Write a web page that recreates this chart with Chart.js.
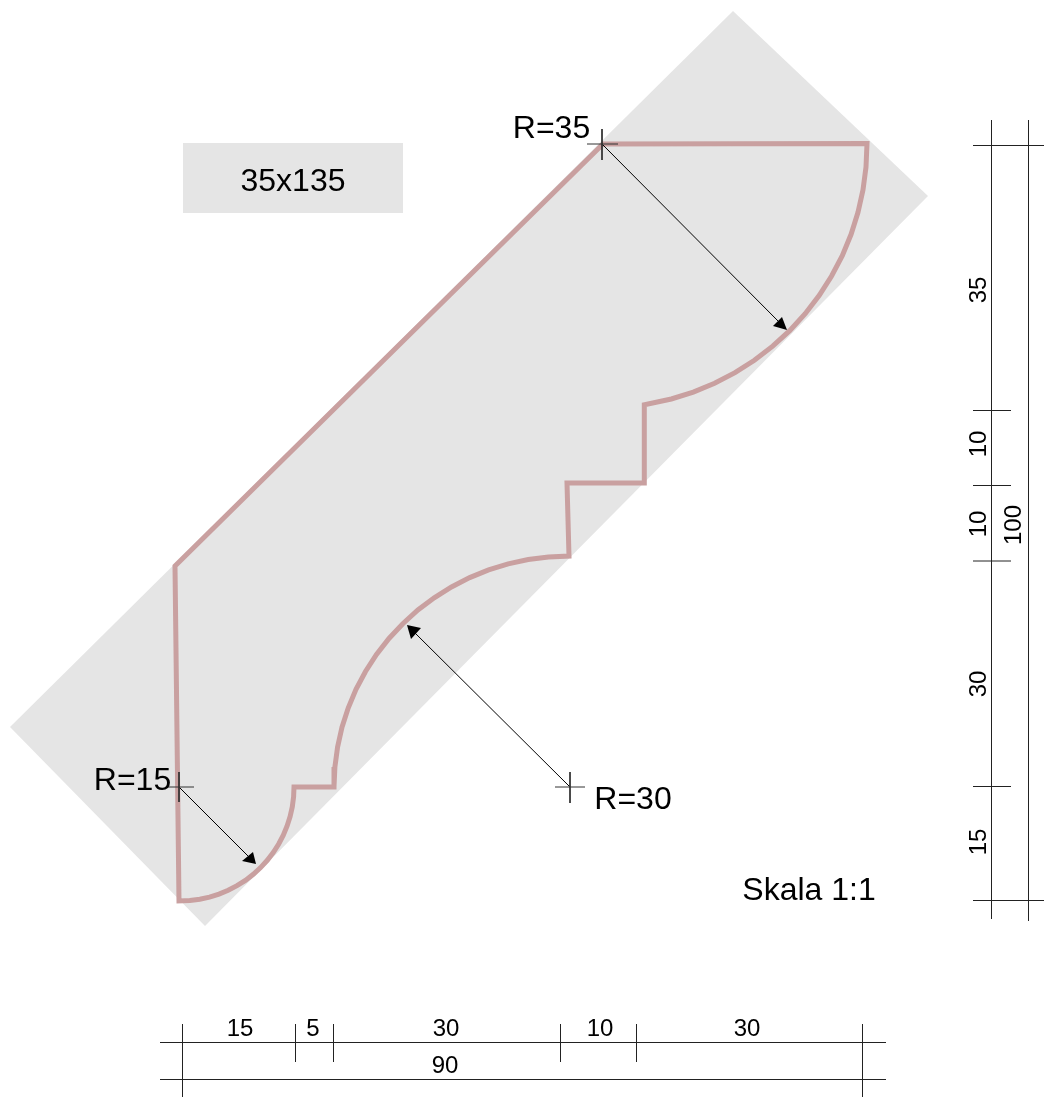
<!DOCTYPE html>
<html>
<head>
<meta charset="utf-8">
<style>html,body{margin:0;padding:0;background:#fff}canvas{display:block}</style>
<script src="https://cdn.jsdelivr.net/npm/chart.js@4"></script>
</head>
<body>
<canvas id="c" width="1044" height="1097"></canvas>
<script>
const stockBlock = [[733,11],[928,196],[205,926],[10,727]];
const titleBlock = [[183,143],[403,143],[403,213],[183,213]];
const profileOutline = [[400,344],[603,144],[867,143.5],
  [866,167],[863,189.8],[858,212.3],[851.1,234.3],[842.3,255.6],[831.6,276],[819.3,295.4],[805.2,313.7],[789.7,330.7],
  [772.7,346.2],[754.4,360.3],[735,372.6],[714.6,383.3],[693.3,392.1],[671.3,399],[644.3,404.8],
  [644.3,483],[567,483],[569,556],
  [548.5,556.9],[528.2,559.5],[508.2,563.9],[488.6,569.9],[469.7,577.6],[451.5,586.9],[434.2,597.8],[417.9,610],[402.8,623.7],
  [389,638.5],[376.5,654.5],[365.5,671.5],[356,689.4],[348.2,708],[342,727.2],[337.6,746.9],[334.9,766.9],[334,787],
  [294,787],[293.6,796.9],[292.3,806.8],[290.1,816.5],[287.1,826],[283.3,835.2],[278.7,844],[273.4,852.4],[267.3,860.3],[260.6,867.6],
  [253.3,874.3],[245.4,880.4],[237,885.7],[228.2,890.3],[219,894.1],[209.5,897.1],[199.8,899.3],[189.9,900.6],[179,901],
  [175,566],[400,344]];
const radiusLines = [
  [[602,144],[782,325]],
  [[570,787],[413,631]],
  [[179,787],[251,859]]
];
const arrowHeads = [
  [[787,330],[773,326],[782,317]],
  [[407,625],[411,639],[421,628]],
  [[256,864],[242,861],[253,852]]
];
const centreMarks = [
  [[587,144],[618,144]], [[602,129],[602,160]],
  [[555,787],[585,787]], [[570,772],[570,803]],
  [[167,787],[194,787]], [[179,772],[179,802]]
];
const bottomDimLines = [
  [[160,1042.5],[886,1042.5]], [[160,1079.5],[886,1079.5]],
  [[182.5,1024],[182.5,1097]], [[295.5,1024],[295.5,1062]], [[333.5,1024],[333.5,1062]],
  [[560.5,1024],[560.5,1062]], [[636.5,1024],[636.5,1062]], [[862.5,1024],[862.5,1097]]
];
const sideDimLines = [
  [[991.5,120],[991.5,919]], [[1028.5,120],[1028.5,921]],
  [[973,145.5],[1044,145.5]], [[973,410.5],[1011,410.5]], [[973,485.5],[1011,485.5]],
  [[973,561],[1011,561]], [[973,786.5],[1011,786.5]], [[973,900.5],[1044,900.5]]
];
const bigLabels = [
  ["35x135",293,182],["R=35",551.5,129],["R=15",132.5,781],["R=30",633,800],["Skala 1:1",809,891]
];
const bottomLabels = [
  ["15",240,1029],["5",313,1029],["30",446,1029],["10",600,1029],["30",747,1029],["90",445,1066]
];
const sideLabels = [
  ["35",979,290],["10",979,444],["10",979,524],["100",1014.5,525],["30",979,684],["15",979,842]
];

const pts = a => a.map(([x,y]) => ({x,y}));
const FILL_GRAY = "#e5e5e5", PINK = "#c9a0a0";
const shape = (a,color,order) => ({data:pts(a),showLine:true,fill:"shape",backgroundColor:color,borderColor:color,borderWidth:0,pointRadius:0,order});
const line = (a,color,w,order) => ({data:pts(a),showLine:true,fill:false,borderColor:color,borderWidth:w,pointRadius:0,order,borderJoinStyle:"miter",borderCapStyle:"butt"});

const textPlugin = {
  id:"drawingText",
  afterDatasetsDraw(chart){
    const {ctx,scales:{x,y}} = chart;
    const put = (list,size,rot) => list.forEach(([t,tx,ty]) => {
      ctx.save();
      ctx.translate(x.getPixelForValue(tx),y.getPixelForValue(ty));
      ctx.rotate(rot);
      ctx.font = size+'px "Liberation Sans"';
      ctx.fillStyle = "#000";
      ctx.textAlign = "center";
      ctx.textBaseline = "middle";
      ctx.fillText(t,0,0);
      ctx.restore();
    });
    put(bigLabels,32,0);
    put(bottomLabels,24,0);
    put(sideLabels,24,-Math.PI/2);
  }
};

new Chart(document.getElementById("c"),{
  type:"scatter",
  data:{datasets:[
    shape(stockBlock,FILL_GRAY,10),
    shape(titleBlock,FILL_GRAY,10),
    line(profileOutline,PINK,5,5),
    ...radiusLines.map(a=>line(a,"#000",1,3)),
    ...arrowHeads.map(a=>shape(a,"#000",2)),
    ...centreMarks.map(a=>line(a,"#333",1,1)),
    ...bottomDimLines.map(a=>line(a,"#222",1,1)),
    ...sideDimLines.map(a=>line(a,"#222",1,1))
  ]},
  options:{
    responsive:false,animation:false,
    layout:{padding:0},
    clip:false,
    plugins:{legend:{display:false},tooltip:{enabled:false},title:{display:false}},
    events:[],
    scales:{
      x:{type:"linear",display:false,min:0,max:1044},
      y:{type:"linear",display:false,min:0,max:1097,reverse:true}
    }
  },
  plugins:[textPlugin]
});
</script>
</body>
</html>
